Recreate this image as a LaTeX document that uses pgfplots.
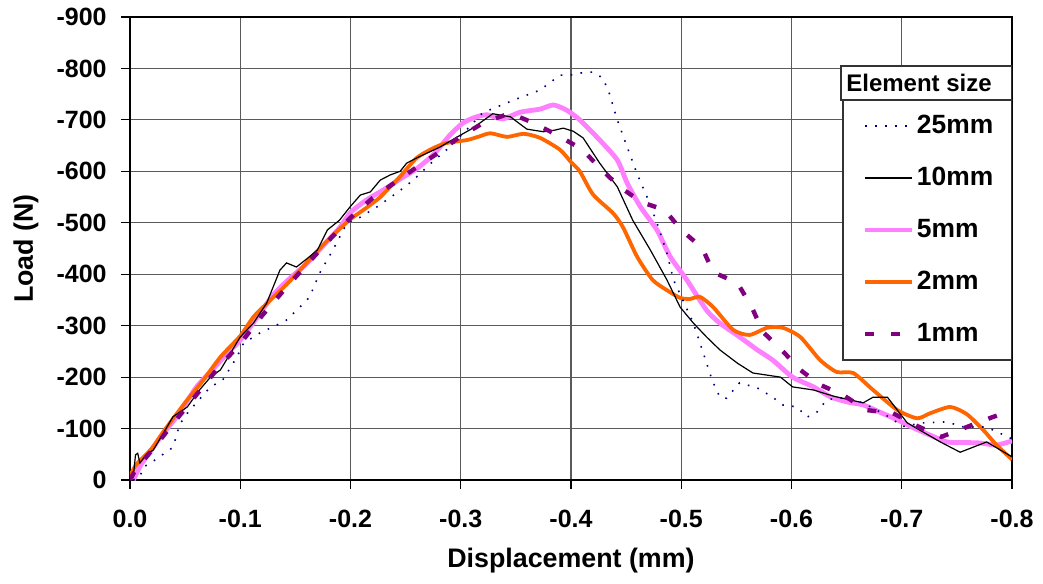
\documentclass[border=0pt]{standalone}
\usepackage{fontspec}
\setmainfont{Liberation Sans}
\usepackage{pgfplots}
\pgfplotsset{compat=1.18}
\definecolor{c25}{HTML}{000080}
\definecolor{c10}{HTML}{000000}
\definecolor{c5}{HTML}{FF80FF}
\definecolor{c2}{HTML}{FF6600}
\definecolor{c1}{HTML}{800080}
\definecolor{gridc}{HTML}{5A5A5A}
\begin{document}
\begin{tikzpicture}
\begin{axis}[
  name=ax,
  scale only axis,
  width=441pt, height=231.5pt,
  x dir=reverse, y dir=reverse,
  xmin=-0.8, xmax=0, ymin=-900, ymax=0,
  xtick={0,-0.1,-0.2,-0.3,-0.4,-0.5,-0.6,-0.7,-0.8},
  xticklabels={0.0,-0.1,-0.2,-0.3,-0.4,-0.5,-0.6,-0.7,-0.8},
  ytick={0,-100,-200,-300,-400,-500,-600,-700,-800,-900},
  yticklabels={0,-100,-200,-300,-400,-500,-600,-700,-800,-900},
  tick align=outside,
  major tick length=4.5pt,
  tick style={black, line width=0.6pt},
  xtick pos=left, ytick pos=left,
  grid=major,
  major grid style={gridc, line width=0.6pt},
  axis line style={black, line width=0.8pt},
  ticklabel style={font=\bfseries\fontsize{12.5}{15}\selectfont, inner sep=0pt},
  xticklabel style={anchor=north, yshift=-10.5pt},
  yticklabel style={anchor=east, xshift=-7pt},
  xlabel={Displacement (mm)},
  ylabel={Load (N)},
  label style={font=\bfseries\fontsize{13.4}{16}\selectfont},
  xlabel style={at={(axis description cs:0.5,-0.1469)}, anchor=north, inner sep=0pt},
  ylabel style={at={(axis description cs:-0.1179,0.5)}, anchor=center, inner sep=0pt, rotate=0},
  clip=true,
  legend cell align=left,
  legend style={at={(axis cs:-0.6467,-738.7)}, anchor=north west, draw=none, fill=none,
    inner sep=0pt, outer sep=0pt, row sep=0pt,
    font=\bfseries\fontsize{13.2}{16}\selectfont,
    nodes={inner sep=0pt, minimum height=26pt}},
  legend image code/.code={\path[draw=none,fill=none] (0pt,0pt) -- (37pt,0pt); \draw[#1] (11pt,0pt) -- (34.5pt,0pt);},
]
\addlegendimage{c25, line width=0.8pt, dash pattern=on 0.8pt off 4.2pt}
\addlegendentry{25mm}
\addlegendimage{c10, line width=0.6pt}
\addlegendentry{10mm}
\addlegendimage{c5, line width=2.2pt}
\addlegendentry{5mm}
\addlegendimage{c2, line width=1.8pt}
\addlegendentry{2mm}
\addlegendimage{c1, line width=2.2pt, dash pattern=on 4.5pt off 8.5pt}
\addlegendentry{1mm}

% 5mm
\addplot[c5, line width=2.4pt, smooth, tension=0.4, forget plot] coordinates {
(-0.003,0) (-0.01,-30) (-0.02,-60) (-0.03,-90) (-0.045,-130) (-0.06,-180) (-0.075,-215)
(-0.09,-250) (-0.1,-272) (-0.115,-315) (-0.13,-360) (-0.145,-392) (-0.16,-420) (-0.175,-455)
(-0.19,-490) (-0.2,-520) (-0.215,-545) (-0.23,-564) (-0.245,-585) (-0.26,-605) (-0.275,-632)
(-0.29,-670) (-0.302,-694) (-0.313,-705) (-0.324,-710) (-0.338,-702) (-0.354,-715) (-0.372,-721)
(-0.384,-729) (-0.396,-719) (-0.408,-700) (-0.426,-661) (-0.442,-622) (-0.451,-577) (-0.463,-531)
(-0.478,-486) (-0.49,-434) (-0.505,-389) (-0.523,-330) (-0.535,-305) (-0.553,-278) (-0.569,-253)
(-0.583,-233) (-0.601,-200) (-0.62,-181) (-0.635,-162) (-0.65,-152) (-0.665,-146) (-0.68,-132)
(-0.696,-117) (-0.71,-102) (-0.726,-87) (-0.741,-74) (-0.755,-73) (-0.771,-72) (-0.786,-68) (-0.8,-76)};

% 2mm
\addplot[c2, line width=1.9pt, smooth, tension=0.4, forget plot] coordinates {
(0,-8) (-0.005,-28) (-0.01,-40) (-0.02,-62) (-0.03,-93) (-0.04,-122) (-0.052,-156) (-0.065,-190)
(-0.082,-239) (-0.1,-280) (-0.112,-317) (-0.125,-345) (-0.142,-380) (-0.155,-410) (-0.172,-450)
(-0.185,-478) (-0.2,-507) (-0.215,-530) (-0.227,-550) (-0.236,-570) (-0.245,-590) (-0.26,-626)
(-0.275,-645) (-0.287,-655) (-0.306,-661) (-0.317,-668) (-0.327,-674) (-0.342,-667) (-0.357,-673)
(-0.372,-665) (-0.39,-642) (-0.4,-618) (-0.408,-600) (-0.42,-555) (-0.438,-519) (-0.447,-492)
(-0.46,-434) (-0.474,-389) (-0.487,-369) (-0.499,-354) (-0.508,-352) (-0.517,-356) (-0.529,-336)
(-0.547,-292) (-0.562,-282) (-0.578,-296) (-0.592,-296) (-0.608,-278) (-0.626,-233) (-0.641,-210)
(-0.656,-208) (-0.674,-175) (-0.696,-136) (-0.714,-120) (-0.726,-130) (-0.744,-142) (-0.759,-128)
(-0.774,-97) (-0.786,-68) (-0.8,-40)};

% 10mm
\addplot[c10, line width=0.6pt, forget plot] coordinates {
(0,0) (-0.003,-6) (-0.005,-49) (-0.007,-52) (-0.009,-33) (-0.015,-50) (-0.021,-58) (-0.03,-90)
(-0.039,-123) (-0.052,-142) (-0.063,-175) (-0.073,-200) (-0.082,-214) (-0.1,-278) (-0.112,-305)
(-0.124,-344) (-0.136,-408) (-0.142,-422) (-0.151,-414) (-0.161,-431) (-0.17,-447) (-0.179,-486)
(-0.19,-505) (-0.2,-532) (-0.209,-554) (-0.218,-560) (-0.227,-583) (-0.236,-593) (-0.245,-600)
(-0.251,-616) (-0.26,-626) (-0.281,-647) (-0.297,-667) (-0.311,-684) (-0.329,-712) (-0.345,-706)
(-0.36,-682) (-0.375,-677) (-0.385,-680) (-0.393,-684) (-0.402,-678) (-0.411,-665) (-0.426,-616)
(-0.442,-570) (-0.456,-505) (-0.472,-447) (-0.487,-389) (-0.499,-336) (-0.511,-305) (-0.523,-278)
(-0.535,-253) (-0.551,-227) (-0.565,-208) (-0.59,-200) (-0.601,-181) (-0.62,-175) (-0.638,-163)
(-0.665,-150) (-0.674,-161) (-0.687,-161) (-0.705,-111) (-0.735,-74) (-0.753,-54) (-0.765,-64)
(-0.777,-74) (-0.8,-45)};

% 25mm
\addplot[c25, line width=0.8pt, dash pattern=on 0.8pt off 4.2pt, forget plot] coordinates {
(-0.003,0) (-0.009,-6) (-0.012,-25) (-0.02,-35) (-0.03,-50) (-0.038,-62) (-0.041,-78) (-0.045,-108)
(-0.052,-130) (-0.061,-152) (-0.073,-181) (-0.084,-194) (-0.097,-239) (-0.103,-266) (-0.118,-286)
(-0.133,-301) (-0.142,-311) (-0.154,-336) (-0.163,-356) (-0.172,-402) (-0.184,-447) (-0.197,-500)
(-0.209,-511) (-0.224,-531) (-0.242,-558) (-0.257,-583) (-0.275,-620) (-0.29,-647) (-0.305,-680)
(-0.32,-714) (-0.351,-741) (-0.372,-758) (-0.39,-787) (-0.399,-787) (-0.408,-791) (-0.42,-793)
(-0.429,-781) (-0.435,-750) (-0.442,-700) (-0.451,-647) (-0.46,-595) (-0.469,-550) (-0.478,-500)
(-0.487,-441) (-0.493,-389) (-0.511,-305) (-0.52,-247) (-0.528,-194) (-0.535,-161) (-0.541,-159)
(-0.553,-189) (-0.569,-179) (-0.583,-161) (-0.592,-146) (-0.605,-142) (-0.614,-122) (-0.623,-132)
(-0.632,-156) (-0.647,-160) (-0.665,-150) (-0.689,-122) (-0.701,-104) (-0.719,-111) (-0.741,-113)
(-0.756,-103) (-0.777,-103) (-0.8,-80)};

% 1mm
\addplot[c1, line width=2.2pt, dash pattern=on 4.5pt off 8.5pt, forget plot] coordinates {
(0,0) (-0.005,-20) (-0.02,-58) (-0.04,-112) (-0.06,-165) (-0.08,-218) (-0.1,-265) (-0.12,-320)
(-0.14,-370) (-0.16,-418) (-0.18,-465) (-0.2,-510) (-0.22,-548) (-0.24,-578) (-0.26,-608)
(-0.281,-638) (-0.299,-667) (-0.322,-696) (-0.345,-713) (-0.366,-694) (-0.387,-671) (-0.41,-643)
(-0.426,-607) (-0.444,-570) (-0.464,-540) (-0.485,-525) (-0.5,-486) (-0.519,-451) (-0.529,-404)
(-0.551,-383) (-0.564,-336) (-0.574,-288) (-0.591,-253) (-0.608,-214) (-0.626,-185) (-0.647,-165)
(-0.668,-136) (-0.692,-130) (-0.714,-105) (-0.736,-84) (-0.759,-103) (-0.782,-122) (-0.8,-135)};

% legend frames
\draw[black!80, line width=0.6pt, fill=white] (axis cs:-0.6449,-804.8) rectangle (axis cs:-0.8,-738.7);
\draw[black!80, line width=0.6pt, fill=white] (axis cs:-0.6467,-738.7) rectangle (axis cs:-0.8,-233.3);
\node[anchor=west, inner sep=0pt, font=\bfseries\fontsize{12}{14}\selectfont] at (axis cs:-0.6494,-771.8) {Element size};
\coordinate (BL) at (axis cs:0,0);
\coordinate (TR) at (axis cs:-0.8,-900);
\end{axis}
\pgfresetboundingbox
\path ([xshift=-65pt,yshift=-51.5pt]BL) rectangle ([xshift=15.5pt,yshift=8.5pt]TR);
\end{tikzpicture}
\end{document}
